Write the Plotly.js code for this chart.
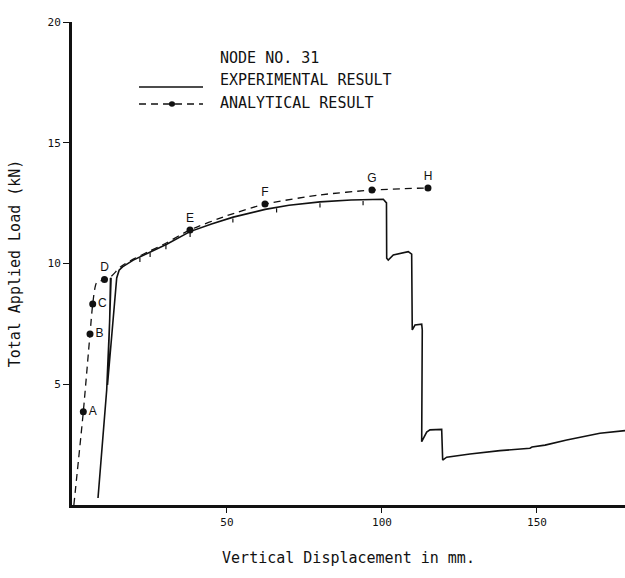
<!DOCTYPE html>
<html>
<head>
<meta charset="utf-8">
<script src="https://cdn.plot.ly/plotly-3.0.1.min.js"></script>
<style>html,body{margin:0;padding:0;background:#fff;}#chart{width:625px;height:578px;}</style>
</head>
<body>
<div id="chart"></div>
<script>
// Experimental result (solid line): displacement (mm), load (kN)
var expX = [8.39, 11.19, 12.16, 12.42, 12.6, 11.45, 13.32, 14.42, 15.2, 16.3, 19.77, 25.16, 30.55, 38.06, 45.0, 52.0, 57.0, 62.3, 70.0, 80.0, 90.0, 100.42, 101.45, 101.52, 102.03, 103.65, 108.48, 109.58, 109.77, 110.65, 112.81, 113.0, 112.81, 114.42, 115.48, 119.26, 119.58, 120.87, 128.39, 138.06, 147.74, 148.4, 152.6, 159.6, 170.3, 178.4];
var expY = [0.29, 4.76, 7.66, 9.40, 9.38, 4.97, 7.66, 9.40, 9.72, 9.86, 10.14, 10.48, 10.80, 11.32, 11.64, 11.92, 12.08, 12.24, 12.41, 12.55, 12.63, 12.66, 12.51, 10.22, 10.14, 10.35, 10.49, 10.39, 7.25, 7.45, 7.49, 7.25, 2.62, 3.02, 3.11, 3.13, 1.86, 1.98, 2.11, 2.25, 2.35, 2.40, 2.48, 2.69, 2.97, 3.08];

// Small hanging tick marks just below the experimental curve
var tickMarkX = [21.9, 25.2, 30.3, 38.1, 51.9, 66.0, 80.0, 93.9];
var tickMarkY = [10.15, 10.36, 10.68, 11.18, 11.78, 12.20, 12.41, 12.50];

// Analytical result (dashed line)
var anaX = [0.6, 3.65, 5.81, 6.68, 7.90, 10.48, 12.26, 15.81, 19.77, 25.16, 30.55, 38.06, 50.0, 62.26, 80.0, 96.77, 114.84];
var anaY = [0.0, 3.86, 7.08, 8.32, 9.19, 9.34, 9.42, 9.88, 10.18, 10.52, 10.86, 11.39, 11.98, 12.46, 12.84, 13.04, 13.13];

// Labelled analytical points A-H
var ptLabels = ["A", "B", "C", "D", "E", "F", "G", "H"];
var ptX = [3.65, 5.81, 6.68, 10.48, 38.06, 62.26, 96.77, 114.84];
var ptY = [3.86, 7.08, 8.32, 9.34, 11.39, 12.46, 13.04, 13.13];
var ptPos = ["middle right", "middle right", "middle right", "top center", "top center", "top center", "top center", "top center"];

var xTicks = [50, 100, 150];
var yTicks = [5, 10, 15, 20];

var legendTitle = "NODE NO. 31";
var expName = "EXPERIMENTAL RESULT";
var anaName = "ANALYTICAL RESULT";

var mono = "DejaVu Sans Mono, Liberation Mono, monospace";

var traces = [
  {x: expX, y: expY, type: "scatter", mode: "lines", name: expName,
   line: {color: "#111", width: 1.6}, hoverinfo: "skip"},
  {x: tickMarkX, y: tickMarkY, type: "scatter", mode: "markers", showlegend: false,
   marker: {symbol: "line-ns-open", size: 3, color: "#111", line: {color: "#111", width: 1.2}}, hoverinfo: "skip"},
  {x: anaX, y: anaY, type: "scatter", mode: "lines", name: anaName,
   line: {color: "#111", width: 1.3, dash: "7px,5px", shape: "spline", smoothing: 0.6}, hoverinfo: "skip"},
  {x: ptX, y: ptY, type: "scatter", mode: "markers+text", text: ptLabels,
   textposition: ptPos, textfont: {family: "Liberation Sans, Arial, sans-serif", size: 12, color: "#111"},
   marker: {color: "#111", size: 7}, showlegend: false, hoverinfo: "skip"}
];

var layout = {
  width: 625, height: 578,
  margin: {l: 72, r: 0, t: 22, b: 73},
  paper_bgcolor: "#fff", plot_bgcolor: "#fff",
  showlegend: false,
  xaxis: {
    range: [0, 178.4], tickvals: xTicks, ticktext: xTicks.map(String),
    showgrid: false, zeroline: false, showline: true, linecolor: "#111", linewidth: 3,
    ticks: "outside", ticklen: 5, tickwidth: 1, tickcolor: "#111",
    tickfont: {family: mono, size: 11, color: "#111"},
    title: {text: "Vertical Displacement in mm.", font: {family: mono, size: 15, color: "#111"}, standoff: 25}
  },
  yaxis: {
    range: [0, 20], tickvals: yTicks, ticktext: yTicks.map(String),
    showgrid: false, zeroline: false, showline: true, linecolor: "#111", linewidth: 3,
    ticks: "outside", ticklen: 6, tickwidth: 1, tickcolor: "#111",
    tickfont: {family: mono, size: 11, color: "#111"},
    title: {text: "Total Applied Load (kN)", font: {family: mono, size: 15, color: "#111"}, standoff: 24}
  },
  shapes: [
    {type: "line", xref: "paper", yref: "paper", x0: 0.1212, x1: 0.2369, y0: 0.8654, y1: 0.8654,
     line: {color: "#111", width: 1.3}},
    {type: "line", xref: "paper", yref: "paper", x0: 0.1212, x1: 0.2369, y0: 0.8302, y1: 0.8302,
     line: {color: "#111", width: 1.3, dash: "7px,5px"}},
    {type: "circle", xref: "paper", yref: "paper", x0: 0.1753, x1: 0.1863, y0: 0.8245, y1: 0.8359,
     fillcolor: "#111", line: {color: "#111", width: 0}}
  ],
  annotations: [
    {xref: "paper", yref: "paper", x: 0.2640, y: 0.9255, xanchor: "left", yanchor: "middle", showarrow: false,
     text: legendTitle, font: {family: mono, size: 15, color: "#111"}},
    {xref: "paper", yref: "paper", x: 0.2640, y: 0.8799, xanchor: "left", yanchor: "middle", showarrow: false,
     text: expName, font: {family: mono, size: 15, color: "#111"}},
    {xref: "paper", yref: "paper", x: 0.2640, y: 0.8323, xanchor: "left", yanchor: "middle", showarrow: false,
     text: anaName, font: {family: mono, size: 15, color: "#111"}}
  ]
};

Plotly.newPlot("chart", traces, layout, {staticPlot: true, displayModeBar: false});
</script>
</body>
</html>
